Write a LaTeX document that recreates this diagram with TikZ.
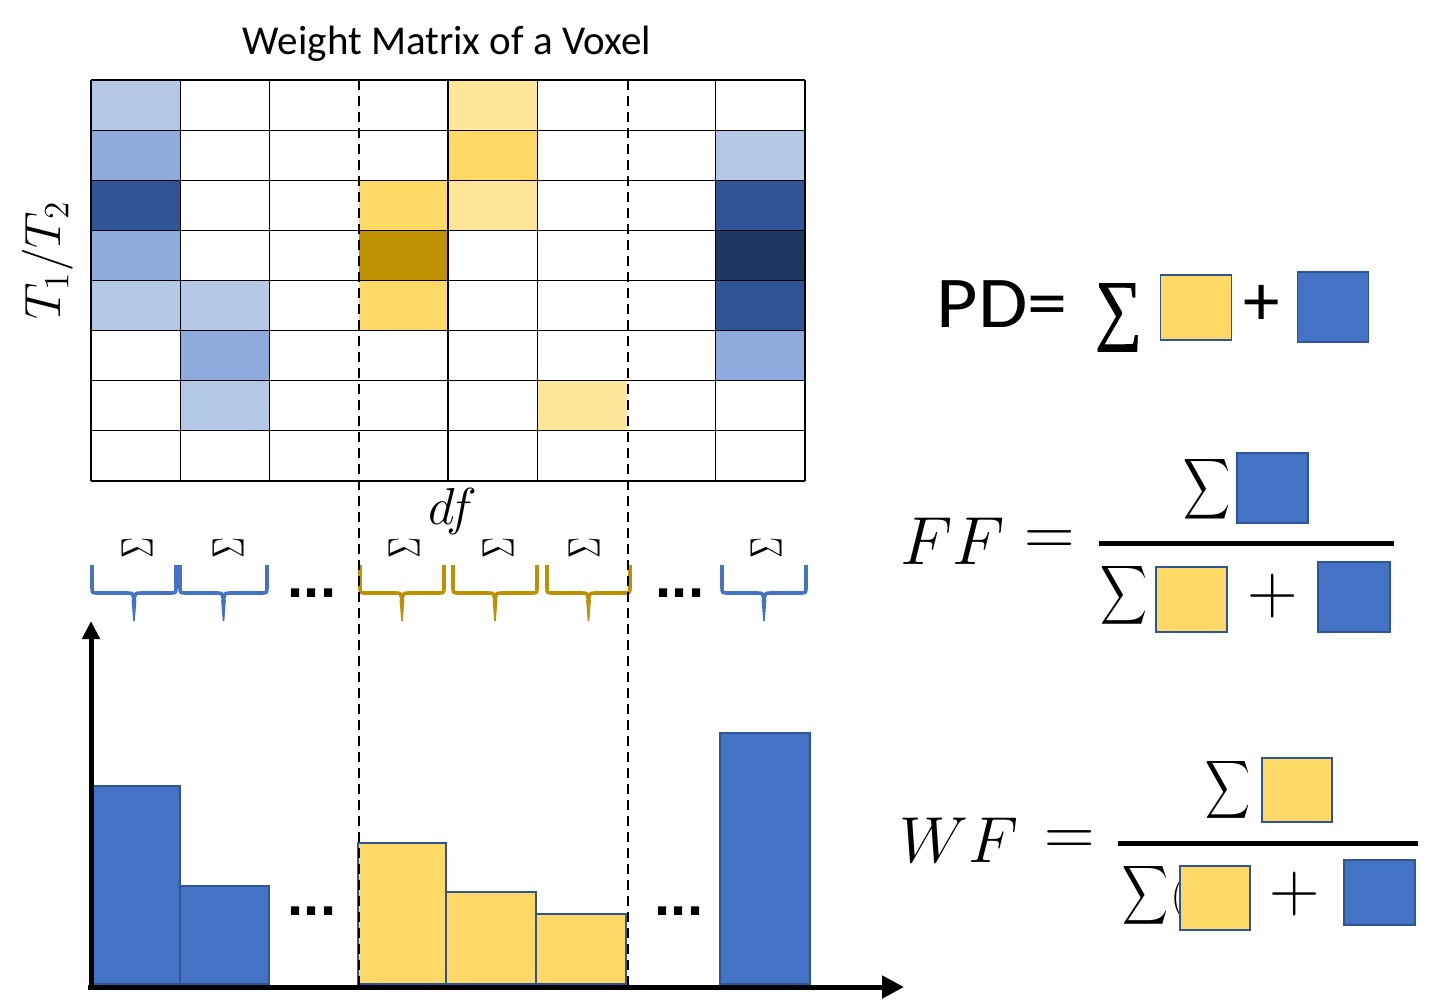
\documentclass[tikz,border=0pt]{standalone}
\usepackage{fontspec}
\usepackage{graphicx}
\newfontfamily\calib{Carlito}
\newfontfamily\dotfont{Liberation Sans}
\newfontfamily\sumfont[FakeBold=1.2]{Liberation Serif}
\usetikzlibrary{arrows.meta}
\definecolor{lb}{HTML}{B4C7E7}
\definecolor{mb}{HTML}{8FAADC}
\definecolor{db}{HTML}{2F5597}
\definecolor{xb}{HTML}{203864}
\definecolor{bb}{HTML}{4472C4}
\definecolor{ly}{HTML}{FFE699}
\definecolor{yy}{HTML}{FFD966}
\definecolor{gd}{HTML}{BF9000}
\definecolor{edge}{HTML}{2F5597}
\newcommand\fsz[1]{\fontsize{#1}{#1}\selectfont}
% math at size #1 pt, built from 20.74pt base
\newcommand\bm[2]{\pgfmathsetmacro\mysc{#1/20.74}\scalebox{\mysc}{\fontsize{20.74}{24}\selectfont$#2$}}
\newcommand\bsum[2]{\resizebox*{#1pt}{#2pt}{$\displaystyle\sum$}}
\tikzset{
  gridline/.style={line width=1.2pt, black},
  dashline/.style={dash pattern=on 10pt off 6pt, line width=2pt, black},
  brc/.style={line width=3.6pt, line join=round},
  bar/.style={draw=edge, line width=1.2pt},
  sq/.style={draw=edge, line width=1.5pt, inner sep=0pt},
  axis/.style={line width=5pt, black},
  frac/.style={line width=5pt, black},
  dots/.style={font=\dotfont\bfseries\fsz{58}, anchor=base, inner sep=0pt},
  rsig/.style={rotate=90, inner sep=0pt},
  bigsig/.style={inner sep=0pt},
  mtxt/.style={inner sep=0pt},
}
\begin{document}
\begin{tikzpicture}[x=1pt,y=-1pt]
\useasboundingbox (0,0) rectangle (1446,1002);
% cells
\foreach \c/\r/\col in {0/0/lb,4/0/ly,0/1/mb,4/1/yy,7/1/lb,0/2/db,3/2/yy,4/2/ly,7/2/db,0/3/mb,3/3/gd,7/3/xb,0/4/lb,1/4/lb,3/4/yy,7/4/db,1/5/mb,7/5/mb,1/6/lb,5/6/ly}
  \fill[\col] ({91+\c*89.25},{80+\r*50.125}) rectangle ++(89.25,50.125);
% grid
\foreach \i in {0,1,2,4,5,7,8}
  \draw[gridline] ({91+\i*89.25},80) -- ({91+\i*89.25},481);
\foreach \j in {0,...,8}
  \draw[gridline] (91,{80+\j*50.125}) -- (805,{80+\j*50.125});
% title and labels
\node[font=\calib\fsz{41}] (title) at (447,44) {Weight Matrix of a Voxel};
\node[rotate=90, inner sep=0pt] (ylab) at (48,260) {\bm{51}{T_1/T_2}};
\node[inner sep=0pt] (df) at (453,511) {\bm{52}{df}};
% rotated sigmas
\foreach \x [count=\k] in {137,228,404,498,584,766}
  \node[rsig] (s\k) at (\x,548) {\resizebox{21pt}{31pt}{$\Sigma$}};
% braces
\foreach \l/\r/\col in {92/176/bb,180/267/bb,360/444/gd,453/537/gd,547/630/gd,722/806/bb}{
  \pgfmathsetmacro\m{(\l+\r)/2}
  \draw[brc,\col] (\l,565) -- (\l,587) .. controls (\l,593) .. ({\l+6},593) -- ({\m-7},593) .. controls ({\m-1},593) .. (\m,601);
  \draw[brc,\col] (\r,565) -- (\r,587) .. controls (\r,593) .. ({\r-6},593) -- ({\m+7},593) .. controls ({\m+1},593) .. (\m,601);
  \fill[\col] ({\m-2.4},600) -- ({\m-0.8},621) -- ({\m+0.8},621) -- ({\m+2.4},600) -- cycle;
}
\node[dots] (d1) at (312,597) {...};
\node[dots] (d2) at (680,597) {...};
% bars
\filldraw[bar, fill=bb] (91,984) rectangle (180,786);
\filldraw[bar, fill=bb] (180,984) rectangle (269,886);
\filldraw[bar, fill=yy] (358,984) rectangle (446,843);
\filldraw[bar, fill=yy] (446,984) rectangle (536,892);
\filldraw[bar, fill=yy] (536,984) rectangle (626,914);
\filldraw[bar, fill=bb] (720,984) rectangle (810,733);
\node[dots] (d3) at (312,915) {...};
\node[dots] (d4) at (679,915) {...};
% dashed lines
\coordinate (da1) at (359,80); \coordinate (db1) at (359,985);
\coordinate (da2) at (628,80); \coordinate (db2) at (628,985);
\draw[dashline] (da1) -- (db1);
\draw[dashline] (da2) -- (db2);
% axes
\coordinate (o) at (91,987);
\coordinate (ytip) at (91,621);
\coordinate (xtip) at (904,987);
\coordinate (o2) at (88,987);
\draw[axis,-{Triangle[length=18pt,width=17pt]}] (o) -- (ytip);
\draw[axis,-{Triangle[length=22pt,width=22pt]}] (o2) -- (xtip);
% PD formula
\node[font=\calib\fsz{73}, inner sep=0pt, xscale=1.1] (pd) at (1002,304) {PD=};
\node[bigsig] (pds) at (1118.5,317.5) {\resizebox{47pt}{51pt}{\sumfont ∑}};
\node[sq, fill=yy, minimum width=71pt, minimum height=65pt] (pdy) at (1196,307.5) {};
\node[font=\calib\fsz{73}, inner sep=0pt] (pdp) at (1262,305) {+};
\node[sq, fill=bb, minimum width=71pt, minimum height=70pt] (pdb) at (1333,307) {};
% FF formula
\node[mtxt] (ff) at (953,541) {\bm{68}{FF}};
\node[mtxt] (ffe) at (1050,543) {\bm{70}{=}};
\coordinate (ffl) at (1099,543); \coordinate (ffr) at (1394,543);
\draw[frac] (ffl) -- (ffr);
\node[bigsig] (ffs1) at (1206.5,489) {\bsum{47}{68}};
\node[sq, fill=bb, minimum width=71pt, minimum height=70pt] (ffb1) at (1272.5,488) {};
\node[bigsig] (ffs2) at (1123.5,595) {\bsum{47}{66}};
\node[sq, fill=yy, minimum width=71pt, minimum height=65pt] (ffy2) at (1191.5,599.5) {};
\node[mtxt] (ffp) at (1273,596) {\bm{70}{+}};
\node[sq, fill=bb, minimum width=72pt, minimum height=70pt] (ffb2) at (1354,597) {};
% WF formula
\node[mtxt] (wf) at (959,840) {\bm{65}{WF}};
\node[mtxt] (wfe) at (1070,843) {\bm{70}{=}};
\coordinate (wfl) at (1118,843); \coordinate (wfr) at (1418,843);
\draw[frac] (wfl) -- (wfr);
\node[bigsig] (wfs1) at (1227.5,789.5) {\bsum{45}{65}};
\node[sq, fill=yy, minimum width=70pt, minimum height=64pt] (wfy1) at (1297,790) {};
\node[bigsig] (wfs2) at (1145,895) {\bsum{46}{66}};
\node[mtxt] (wfpar) at (1178,898) {\bm{40}{(}};
\node[sq, fill=yy, minimum width=70pt, minimum height=64pt] (wfy2) at (1215,898) {};
\node[mtxt] (wfp) at (1295,894) {\bm{70}{+}};
\node[sq, fill=bb, minimum width=71pt, minimum height=65pt] (wfb2) at (1379.5,892.5) {};
\end{tikzpicture}
\end{document}
